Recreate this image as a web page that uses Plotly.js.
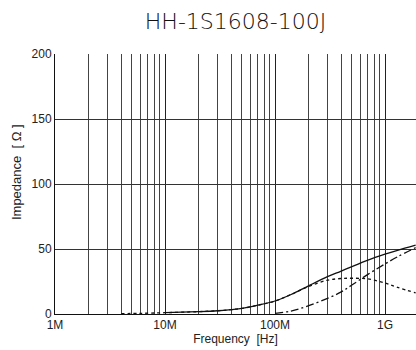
<!DOCTYPE html>
<html><head><meta charset="utf-8">
<script src="https://cdn.plot.ly/plotly-3.0.1.min.js"></script>
<style>html,body{margin:0;padding:0;background:#fff;}#chart{width:416px;height:350px;}</style>
</head><body><div id="chart"></div>
<script>
// Frequency points (Hz) and values (Ohm)
const freqZ = [10e6, 20e6, 30e6, 40e6, 50e6, 70e6, 100e6, 140e6, 200e6, 300e6, 400e6, 500e6, 700e6, 1e9, 1.3e9, 1.9e9];
const impedanceZ = [1, 1.8, 2.5, 3.4, 4.3, 6.8, 10, 15, 21.5, 28.7, 33, 36.5, 41.5, 46, 49, 53];
const freqX = [4e6, 6e6, 10e6, 20e6, 30e6, 40e6, 50e6, 70e6, 100e6, 140e6, 200e6, 300e6, 400e6, 500e6, 700e6, 1e9, 1.3e9, 1.9e9];
const reactanceX = [0.3, 0.5, 1, 1.8, 2.5, 3.4, 4.3, 6.8, 10, 15, 21, 26, 27.3, 27.5, 27, 23.8, 20.5, 16.3];
const freqR = [100e6, 140e6, 200e6, 300e6, 400e6, 500e6, 700e6, 1e9, 1.3e9, 1.9e9];
const resistanceR = [0.5, 2.3, 6.2, 12, 17, 22.3, 30.5, 38.5, 44, 51];
const majorTicks = [1e6, 1e7, 1e8, 1e9];
const majorLabels = ['1M', '10M', '100M', '1G'];
const minorMultipliers = [2, 3, 4, 5, 6, 7, 8, 9];
const yTicks = [0, 50, 100, 150, 200];
const minorTicks = [];
majorTicks.forEach(d => minorMultipliers.forEach(k => minorTicks.push(k * d)));

const lineColor = '#111';
const traces = [
  {x: freqZ, y: impedanceZ, mode: 'lines', line: {color: lineColor, width: 1.3, shape: 'spline'}, hoverinfo: 'skip'},
  {x: freqX, y: reactanceX, mode: 'lines', line: {color: lineColor, width: 1.3, dash: '3px,3px', shape: 'spline'}, hoverinfo: 'skip'},
  {x: freqR, y: resistanceR, mode: 'lines', line: {color: lineColor, width: 1.3, dash: '8px,3px,2px,3px', shape: 'spline'}, hoverinfo: 'skip'}
];

const layout = {
  width: 416, height: 350,
  margin: {l: 55, r: 0, t: 54, b: 36},
  paper_bgcolor: '#fff', plot_bgcolor: '#fff',
  showlegend: false,
  font: {family: 'Liberation Sans, Arial, sans-serif', size: 12, color: '#222'},
  title: {text: 'HH-1S1608-100J', font: {family: 'DejaVu Sans, sans-serif', size: 22, color: '#111', weight: 300},
          x: 0.5, xref: 'paper', xanchor: 'center', y: 0.94, yref: 'container', yanchor: 'middle'},
  xaxis: {
    type: 'log', range: [6, 6 + 361 / 110], autorange: false,
    tickmode: 'array', tickvals: majorTicks, ticktext: majorLabels,
    showgrid: true, gridcolor: '#222', gridwidth: 1,
    minor: {tickmode: 'array', tickvals: minorTicks, showgrid: true, gridcolor: '#444', gridwidth: 1, ticks: ''},
    showline: true, linecolor: '#111', linewidth: 1, mirror: false,
    ticks: '', zeroline: false,
    tickfont: {size: 12, color: '#222'},
    title: {text: 'Frequency  [Hz]', font: {size: 12, color: '#222'}, standoff: 3}
  },
  yaxis: {
    range: [0, 200], autorange: false,
    tickmode: 'array', tickvals: yTicks,
    showgrid: true, gridcolor: '#333', gridwidth: 1,
    showline: true, linecolor: '#111', linewidth: 1,
    ticks: '', zeroline: false,
    tickfont: {size: 12, color: '#222'}
  },
  annotations: [{
    text: 'Impedance  [ Ω ]', textangle: -90, showarrow: false,
    xref: 'paper', yref: 'paper', x: -0.108, y: 0.546, xanchor: 'center', yanchor: 'middle',
    font: {size: 13, color: '#222'}
  }]
};
Plotly.newPlot('chart', traces, layout, {staticPlot: true, displayModeBar: false});
</script></body></html>
